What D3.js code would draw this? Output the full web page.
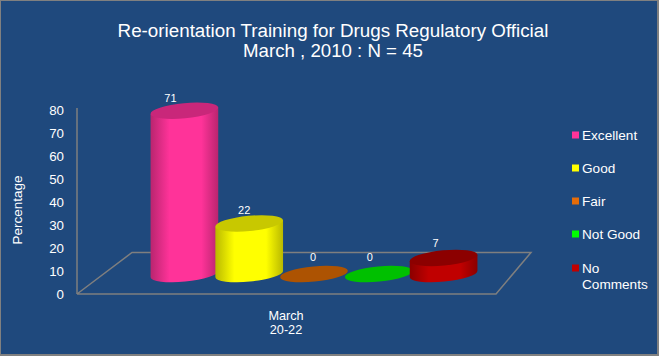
<!DOCTYPE html>
<html><head><meta charset="utf-8">
<script src="https://cdn.jsdelivr.net/npm/d3@7"></script>
<style>html,body{margin:0;padding:0;background:#1f497d}svg{display:block}text{font-family:"Liberation Sans",Arial,sans-serif;fill:#fff}</style>
</head><body><div id="c"></div>
<script>
const titleLines = ["Re-orientation Training for Drugs Regulatory Official", "March , 2010 : N = 45"];
const categories = ["Excellent", "Good", "Fair", "Not Good", "No Comments"];
const values = [71, 22, 0, 0, 7];
const topColors = ["#c9277a", "#c8c800", "#ad5302", "#00c000", "#8c0000"];
const bodyColors = ["#ff3399", "#ffff00", "#e46c0a", "#00ff00", "#c00000"];
const yTicks = [0, 10, 20, 30, 40, 50, 60, 70, 80];
const group = ["March", "20-22"];
const yTitle = "Percentage";

const W = 659, H = 356;
const svg = d3.select("#c").append("svg").attr("width", W).attr("height", H);
svg.append("rect").attr("width", W).attr("height", H).attr("fill", "#808080");
svg.append("rect").attr("x", 1).attr("y", 1).attr("width", W - 3).attr("height", H - 3).attr("fill", "#1f497d");

const y = d3.scaleLinear().domain([0, 80]).range([294, 110]);
const x = d3.scaleBand().domain(categories).range([153, 477]).padding(0);
const defs = svg.append("defs");

// floor
const floor = [[77,294],[496,294],[531,252.5],[132,252.5],[77,294]];
svg.append("path").attr("d", d3.line()(floor)).attr("fill", "none").attr("stroke", "#7f7f7f").attr("stroke-width", 1.5);
svg.append("line").attr("x1", 77).attr("x2", 77).attr("y1", 108).attr("y2", 294).attr("stroke", "#7f7f7f").attr("stroke-width", 1.5);

// axis
const axis = d3.axisLeft(y).tickValues(yTicks).tickSize(0).tickPadding(0);
const ag = svg.append("g").attr("transform", "translate(64,0)").call(axis);
ag.select(".domain").remove();
ag.selectAll("text").attr("font-size", 13.3).style("font-family", '"Liberation Sans",Arial,sans-serif').attr("fill", "#fff");

svg.append("text").attr("transform", "translate(22,210) rotate(-90)").attr("text-anchor", "middle").attr("font-size", 13.5).text(yTitle);

// cylinders
const a = 34, b = 7.6, rot = -5.5, baseLift = 20;
const labelNudge = [-14, -5, -1, -9, -8];
const labelLift = [9, 9, 13, 13, 11];
const dx = a * Math.cos(rot * Math.PI / 180), dy = a * Math.sin(rot * Math.PI / 180);
categories.forEach((c, i) => {
  const cx = x(c) + x.bandwidth() / 2 - 1;
  const yTop = y(values[i]) - baseLift, yBase = y(0) - baseLift;
  const gid = "g" + i;
  const g = defs.append("linearGradient").attr("id", gid);
  const dark = d3.color(bodyColors[i]).darker(0.9);
  g.append("stop").attr("offset", "0%").attr("stop-color", dark);
  g.append("stop").attr("offset", "28%").attr("stop-color", bodyColors[i]);
  g.append("stop").attr("offset", "75%").attr("stop-color", bodyColors[i]);
  g.append("stop").attr("offset", "100%").attr("stop-color", dark);
  if (values[i] > 0) {
    const d = `M${cx - dx},${yTop - dy}L${cx + dx},${yTop + dy}L${cx + dx},${yBase + dy}A${a},${b} ${rot} 0 1 ${cx - dx},${yBase - dy}Z`;
    svg.append("path").attr("d", d).attr("fill", `url(#${gid})`);
  }
  svg.append("ellipse").attr("cx", cx).attr("cy", yTop).attr("rx", a).attr("ry", b)
    .attr("transform", `rotate(${rot} ${cx} ${yTop})`).attr("fill", topColors[i]);
  svg.append("text").attr("x", cx + labelNudge[i]).attr("y", yTop - labelLift[i]).attr("text-anchor", "middle")
    .attr("font-size", 11).text(values[i]);
});

// group label
group.forEach((t, i) => svg.append("text").attr("x", 286).attr("y", 320 + i * 14).attr("text-anchor", "middle").attr("font-size", 12.7).text(t));

// title
titleLines.forEach((t, i) => svg.append("text").attr("x", 333).attr("y", 36.5 + i * 20.5).attr("text-anchor", "middle").attr("font-size", i === 0 ? 18.8 : 18.67).text(t));

// legend
const legendY = [135, 168, 201, 234, 268];
categories.forEach((c, i) => {
  svg.append("rect").attr("x", 572).attr("y", legendY[i] - 3.5).attr("width", 7).attr("height", 7).attr("fill", bodyColors[i]);
  const parts = c === "No Comments" ? ["No", "Comments"] : [c];
  parts.forEach((p, j) => svg.append("text").attr("x", 582).attr("y", legendY[i] + 4.5 + j * 16).attr("font-size", 13.6).text(p));
});
</script></body></html>
